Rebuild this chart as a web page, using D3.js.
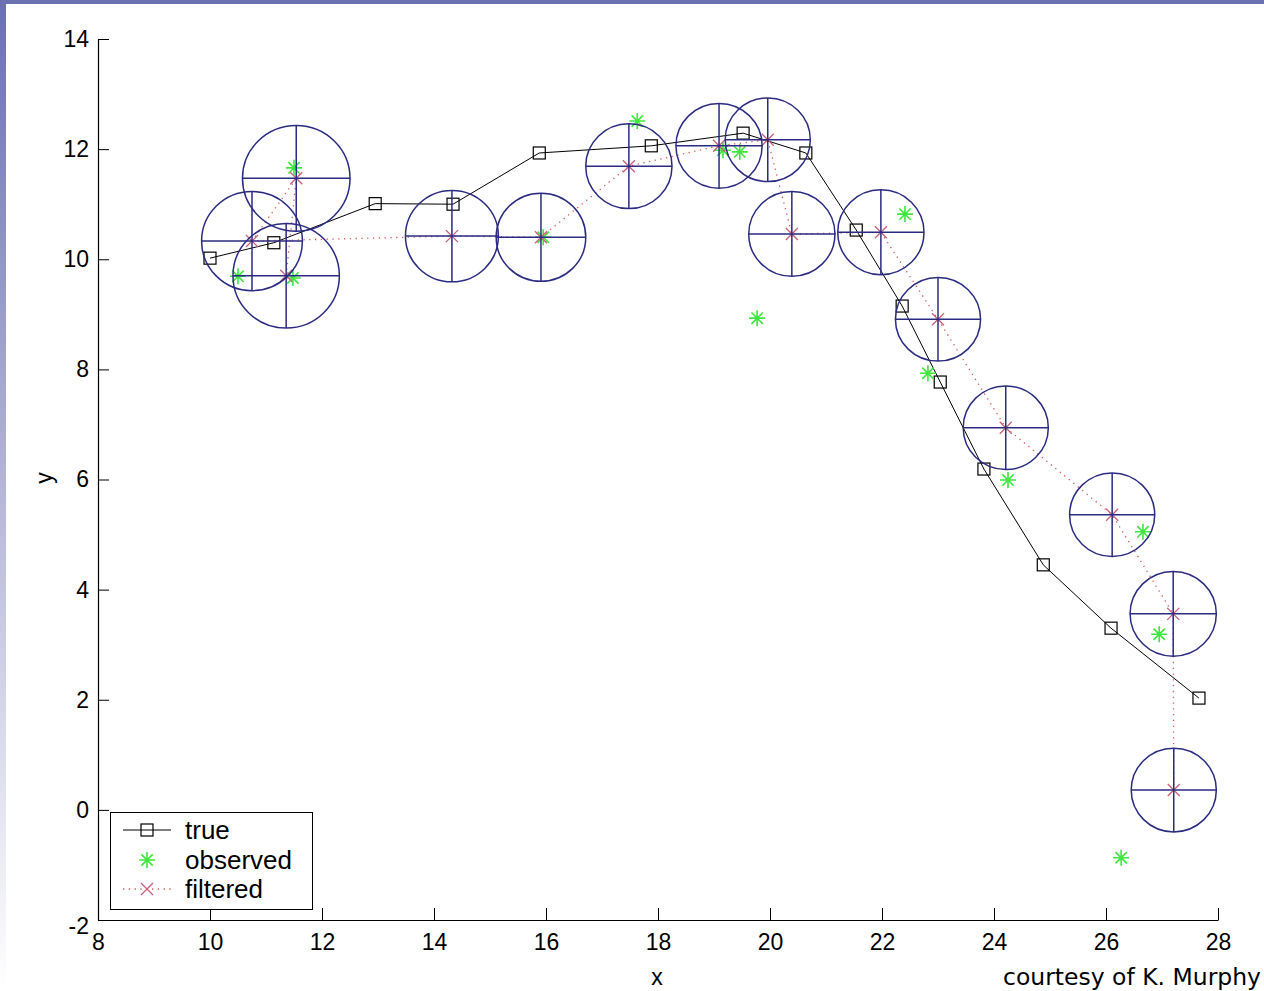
<!DOCTYPE html>
<html>
<head>
<meta charset="utf-8">
<script src="https://cdn.jsdelivr.net/npm/d3@7/dist/d3.min.js"></script>
<style>
html,body{margin:0;padding:0;background:#fff;}
svg{display:block;}
</style>
</head>
<body>
<svg id="chart" width="1264" height="991"></svg>
<script>
// ---- data ----
const xTicks = [8, 10, 12, 14, 16, 18, 20, 22, 24, 26, 28];
const yTicks = [-2, 0, 2, 4, 6, 8, 10, 12, 14];

const trueX = [10.00, 11.14, 12.95, 14.34, 15.88, 17.88, 19.52, 20.64, 21.54, 22.36, 23.04, 23.82, 24.88, 26.09, 27.66];
const trueY = [10.02, 10.30, 11.01, 11.00, 11.93, 12.06, 12.29, 11.93, 10.53, 9.15, 7.77, 6.19, 4.45, 3.30, 2.03];

const obsX = [11.48, 11.50, 10.50, null, 15.95, 17.63, 19.16, 19.46, 19.77, 22.41, 22.82, 24.25, 26.66, 26.95, 26.27];
const obsY = [9.66, 11.66, 9.69, null, 10.40, 12.51, 11.98, 11.95, 8.93, 10.82, 7.93, 5.99, 5.05, 3.19, -0.87];

const filtX = [11.36, 11.54, 10.75, 14.32, 15.91, 17.48, 19.09, 19.96, 20.39, 21.98, 23.00, 24.21, 26.11, 27.20, 27.21];
const filtY = [9.70, 11.47, 10.33, 10.42, 10.40, 11.69, 12.06, 12.17, 10.46, 10.49, 8.91, 6.94, 5.36, 3.56, 0.36];
const filtR = [0.95, 0.96, 0.90, 0.83, 0.80, 0.77, 0.77, 0.76, 0.77, 0.77, 0.76, 0.76, 0.76, 0.77, 0.76];

const legendLabels = ["true", "observed", "filtered"];

// ---- setup ----
const svg = d3.select("#chart");
const W = 1264, H = 991;
const FONT = "'Liberation Sans', Arial, sans-serif";

// slide background decorations
const defs = svg.append("defs");
const grad = defs.append("linearGradient").attr("id", "leftGrad")
  .attr("x1", 0).attr("y1", 0).attr("x2", 0).attr("y2", 1);
grad.append("stop").attr("offset", "0%").attr("stop-color", "#6b70b0");
grad.append("stop").attr("offset", "100%").attr("stop-color", "#ffffff");
svg.append("rect").attr("x", 0).attr("y", 0).attr("width", 6).attr("height", H).attr("fill", "url(#leftGrad)");
svg.append("rect").attr("x", 0).attr("y", 0).attr("width", W).attr("height", 4).attr("fill", "#6b70b0");

const x = d3.scaleLinear().domain([8, 28]).range([98, 1218]);
const y = d3.scaleLinear().domain([-2, 14]).range([920, 39]);

// ---- axes ----
const fmt = d => String(d);
const xAxis = d3.axisBottom(x).tickValues(xTicks).tickFormat(fmt)
  .tickSizeInner(-12).tickSizeOuter(0).tickPadding(14);
const yAxis = d3.axisLeft(y).tickValues(yTicks).tickFormat(fmt)
  .tickSizeInner(-11).tickSizeOuter(0).tickPadding(9);

const gx = svg.append("g").attr("transform", `translate(0,${y(-2)})`).call(xAxis);
const gy = svg.append("g").attr("transform", `translate(${x(8)},0)`).call(yAxis);
[gx, gy].forEach(g => {
  g.selectAll("path.domain").attr("stroke", "#000").attr("stroke-width", 1.2);
  g.selectAll(".tick line").attr("stroke", "#000").attr("stroke-width", 1);
  g.selectAll(".tick text").attr("fill", "#000").style("font-family", FONT).style("font-size", "23px");
});
gy.selectAll(".tick text").filter(d => d === -2).attr("dy", "0.6em");

// axis labels
svg.append("text").attr("x", 657).attr("y", 985).attr("text-anchor", "middle")
  .style("font-family", FONT).style("font-size", "23px").text("x");
svg.append("text").attr("transform", "translate(52,478) rotate(-90)").attr("text-anchor", "middle")
  .style("font-family", FONT).style("font-size", "23px").text("y");

svg.append("text").attr("x", 1003).attr("y", 985)
  .attr("textLength", 258).attr("lengthAdjust", "spacingAndGlyphs")
  .style("font-family", "'DejaVu Sans', Verdana, sans-serif").style("font-size", "23px")
  .attr("fill", "#000").text("courtesy of K. Murphy");

// ---- marks ----
const idx = d3.range(trueX.length);
const plot = svg.append("g");

// true trajectory
const lineTrue = d3.line().x(i => x(trueX[i])).y(i => y(trueY[i]));
plot.append("path").attr("d", lineTrue(idx)).attr("fill", "none").attr("stroke", "#000").attr("stroke-width", 1);
const SQ = 12;
plot.selectAll("rect.sq").data(idx).join("rect").attr("class", "sq")
  .attr("x", i => x(trueX[i]) - SQ / 2).attr("y", i => y(trueY[i]) - SQ / 2)
  .attr("width", SQ).attr("height", SQ).attr("fill", "none").attr("stroke", "#000").attr("stroke-width", 1.2);

// asterisk & x marker paths
function asteriskPath(cx, cy, r) {
  const d = r * Math.SQRT1_2;
  return `M${cx - r},${cy}L${cx + r},${cy}M${cx},${cy - r}L${cx},${cy + r}` +
         `M${cx - d},${cy - d}L${cx + d},${cy + d}M${cx - d},${cy + d}L${cx + d},${cy - d}`;
}
function xPath(cx, cy, r) {
  return `M${cx - r},${cy - r}L${cx + r},${cy + r}M${cx - r},${cy + r}L${cx + r},${cy - r}`;
}

// observed
const obsIdx = idx.filter(i => obsX[i] !== null);
plot.selectAll("path.obs").data(obsIdx).join("path").attr("class", "obs")
  .attr("d", i => asteriskPath(x(obsX[i]), y(obsY[i]), 8))
  .attr("stroke", "#3ee63e").attr("stroke-width", 1.6).attr("fill", "none");

// filtered
const lineFilt = d3.line().x(i => x(filtX[i])).y(i => y(filtY[i]));
plot.append("path").attr("d", lineFilt(idx)).attr("fill", "none")
  .attr("stroke", "#d65a5a").attr("stroke-width", 1.3).attr("stroke-dasharray", "1.3,4.5");
plot.selectAll("path.filt").data(idx).join("path").attr("class", "filt")
  .attr("d", i => xPath(x(filtX[i]), y(filtY[i]), 6))
  .attr("stroke", "#c8607a").attr("stroke-width", 1.3).attr("fill", "none");

// covariance ellipses with cross
const ell = plot.selectAll("g.ell").data(idx).join("g").attr("class", "ell");
ell.append("ellipse")
  .attr("cx", i => x(filtX[i])).attr("cy", i => y(filtY[i]))
  .attr("rx", i => x(filtX[i] + filtR[i]) - x(filtX[i]))
  .attr("ry", i => y(filtY[i]) - y(filtY[i] + filtR[i]))
  .attr("fill", "none").attr("stroke", "#2b2b82").attr("stroke-width", 1.5);
ell.append("path")
  .attr("d", i => `M${x(filtX[i] - filtR[i])},${y(filtY[i])}H${x(filtX[i] + filtR[i])}` +
                  `M${x(filtX[i])},${y(filtY[i] - filtR[i])}V${y(filtY[i] + filtR[i])}`)
  .attr("stroke", "#2b2b82").attr("stroke-width", 1.5).attr("fill", "none");

// ---- legend ----
const lg = svg.append("g");
lg.append("rect").attr("x", 110.5).attr("y", 812.5).attr("width", 202).attr("height", 97)
  .attr("fill", "#fff").attr("stroke", "#000").attr("stroke-width", 1);
const rows = [830, 860, 889];
// true
lg.append("line").attr("x1", 123).attr("x2", 171).attr("y1", rows[0]).attr("y2", rows[0]).attr("stroke", "#000");
lg.append("rect").attr("x", 147 - SQ / 2).attr("y", rows[0] - SQ / 2).attr("width", SQ).attr("height", SQ)
  .attr("fill", "none").attr("stroke", "#000").attr("stroke-width", 1.2);
// observed
lg.append("path").attr("d", asteriskPath(147, rows[1], 8)).attr("stroke", "#3ee63e").attr("stroke-width", 1.6);
// filtered
lg.append("line").attr("x1", 123).attr("x2", 171).attr("y1", rows[2]).attr("y2", rows[2])
  .attr("stroke", "#d65a5a").attr("stroke-width", 1.3).attr("stroke-dasharray", "1.3,4.5");
lg.append("path").attr("d", xPath(147, rows[2], 6)).attr("stroke", "#c8607a").attr("stroke-width", 1.3);
lg.selectAll("text.lab").data(legendLabels).join("text").attr("class", "lab")
  .attr("x", 185).attr("y", (d, i) => rows[i] + 9)
  .style("font-family", FONT).style("font-size", "26px").attr("fill", "#000").text(d => d);
</script>
</body>
</html>
